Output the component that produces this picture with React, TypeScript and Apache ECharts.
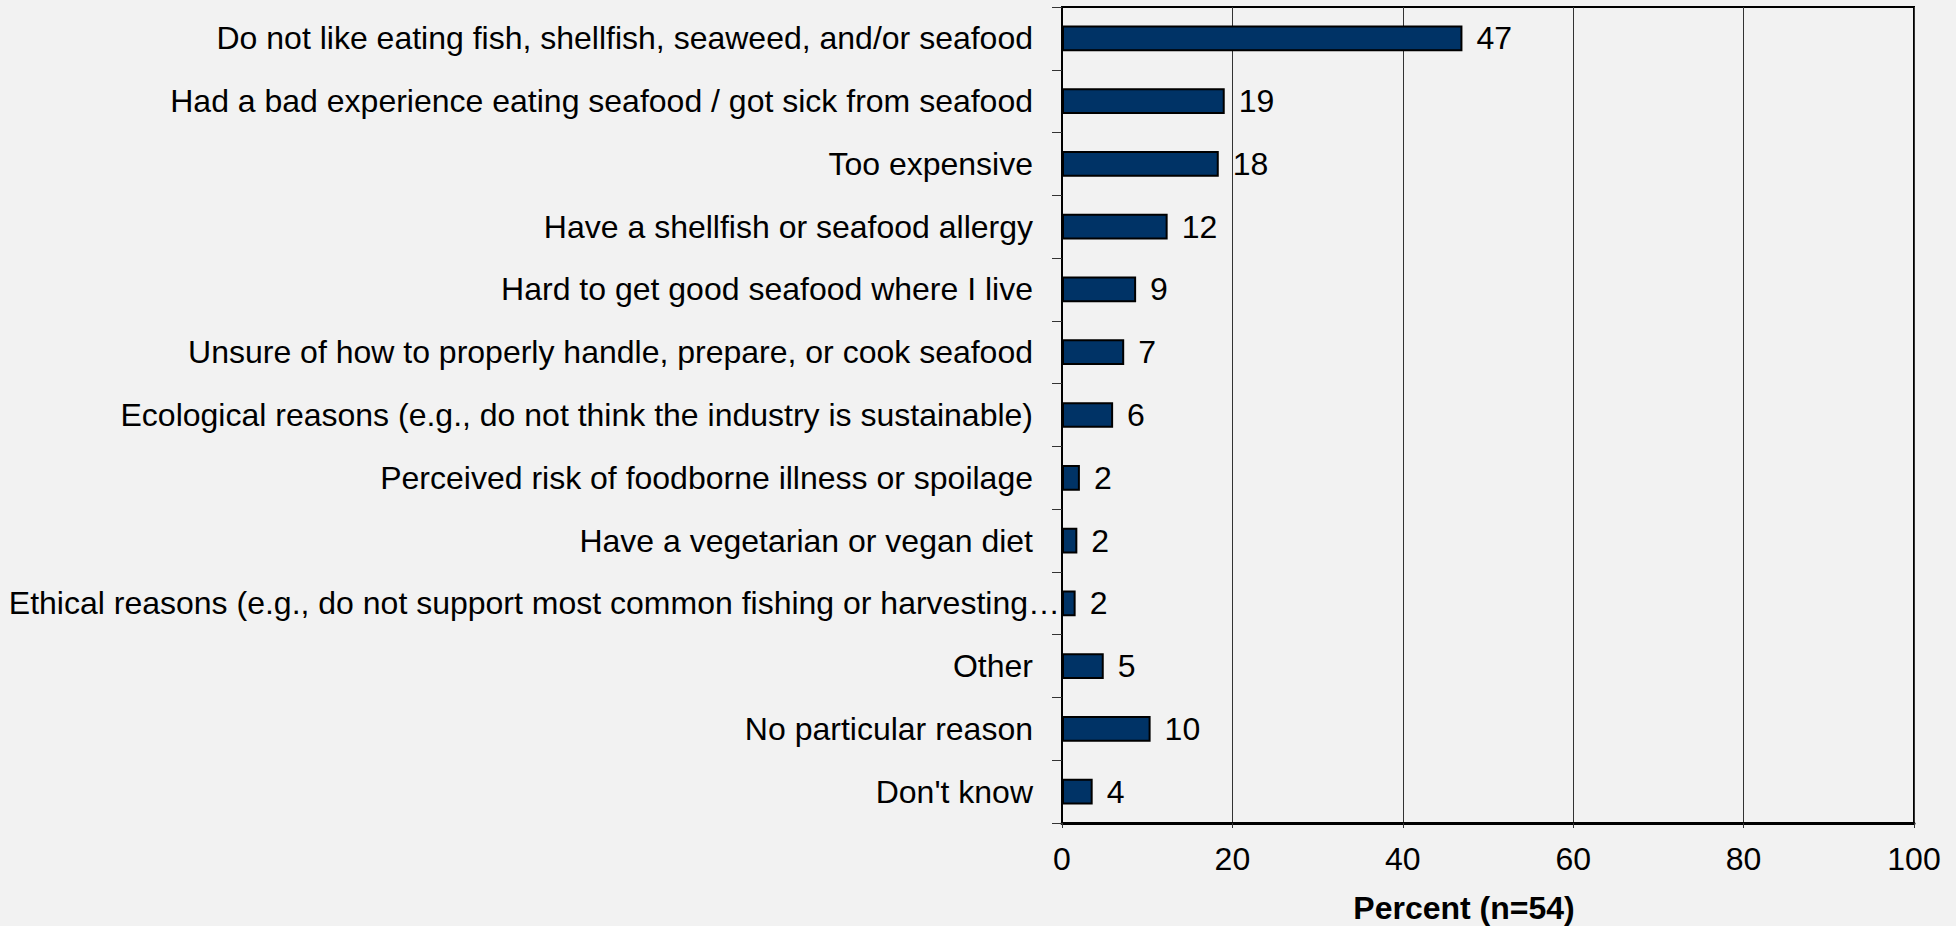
import React, { useEffect, useRef } from "react";
import * as echarts from "echarts";

const categories: string[] = [
  "Do not like eating fish, shellfish, seaweed, and/or seafood",
  "Had a bad experience eating seafood / got sick from seafood",
  "Too expensive",
  "Have a shellfish or seafood allergy",
  "Hard to get good seafood where I live",
  "Unsure of how to properly handle, prepare, or cook seafood",
  "Ecological reasons (e.g., do not think the industry is sustainable)",
  "Perceived risk of foodborne illness or spoilage",
  "Have a vegetarian or vegan diet",
  "Ethical reasons (e.g., do not support most common fishing or harvesting\u2026",
  "Other",
  "No particular reason",
  "Don't know",
];

const values: number[] = [47.0, 19.1, 18.4, 12.4, 8.7, 7.3, 6.0, 2.1, 1.8, 1.6, 4.9, 10.4, 3.6];
const labels: string[] = ["47", "19", "18", "12", "9", "7", "6", "2", "2", "2", "5", "10", "4"];

const xTicks = { min: 0, max: 100, interval: 20 };
const axisTitle = "Percent (n=54)";
const truncatedIndex = 9;

const FONT = "'Liberation Sans', Arial, sans-serif";
const FS = 32;

export default function App() {
  const ref = useRef<HTMLDivElement>(null);
  useEffect(() => {
    if (!ref.current) return;
    const chart = echarts.init(ref.current, null, { renderer: "svg" });
    chart.setOption({
      animation: false,
      backgroundColor: "#f2f2f2",
      textStyle: { fontFamily: FONT },
      grid: {
        left: 1062,
        top: 7,
        right: 42,
        bottom: 103,
        containLabel: false,
        show: true,
        borderColor: "#000",
        borderWidth: 2,
        backgroundColor: "transparent",
      },
      xAxis: {
        type: "value",
        min: xTicks.min,
        max: xTicks.max,
        interval: xTicks.interval,
        axisLine: { show: true, lineStyle: { color: "#000", width: 3 } },
        axisTick: { show: true, length: 5, lineStyle: { color: "#333", width: 1 } },
        axisLabel: { color: "#000", fontSize: FS, fontFamily: FONT, margin: 20 },
        splitLine: { show: true, lineStyle: { color: "#333", width: 1 } },
      },
      yAxis: {
        type: "category",
        data: categories,
        inverse: true,
        axisLine: { show: true, lineStyle: { color: "#000", width: 2 } },
        axisTick: { show: true, length: 10, lineStyle: { color: "#333", width: 1 } },
        axisLabel: {
          color: "#000",
          fontSize: FS,
          fontFamily: FONT,
          margin: 29,
          formatter: (v: string, i: number) => (i === truncatedIndex ? `{t|${v}}` : v),
          rich: {
            t: { fontSize: FS, fontFamily: FONT, color: "#000", padding: [0, -27, 0, 0] },
          },
        },
        splitLine: { show: false },
      },
      series: [
        {
          type: "bar",
          data: values,
          barCategoryGap: "59%",
          itemStyle: { color: "#003366", borderColor: "#000", borderWidth: 2 },
          label: {
            show: true,
            position: "right",
            distance: 14,
            color: "#000",
            fontSize: FS,
            fontFamily: FONT,
            formatter: (p: any) => labels[p.dataIndex],
          },
        },
      ],
      graphic: [
        {
          type: "text",
          x: 1464,
          y: 908,
          style: {
            text: axisTitle,
            fill: "#000",
            font: `bold ${FS}px ${FONT}`,
            textAlign: "center",
            textVerticalAlign: "middle",
          },
        },
      ],
    });
    return () => chart.dispose();
  }, []);
  return (
    <div
      ref={ref}
      style={{ position: "fixed", left: 0, top: 0, width: 1956, height: 926, background: "#f2f2f2" }}
    />
  );
}
